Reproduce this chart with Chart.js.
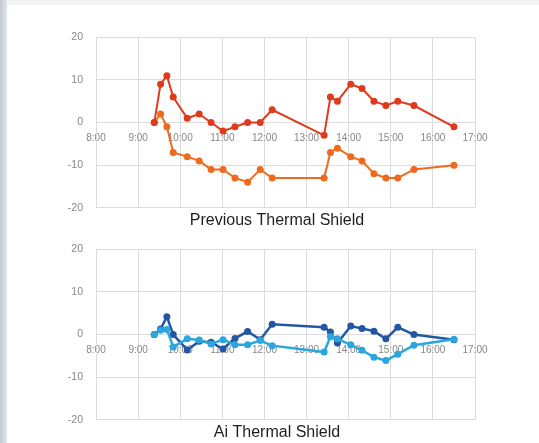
<!DOCTYPE html>
<html>
<head>
<meta charset="utf-8">
<script src="https://cdn.jsdelivr.net/npm/chart.js@4.4.1/dist/chart.umd.min.js"></script>
<style>
    html, body { margin: 0; padding: 0; }
    body {
        width: 539px; height: 443px; position: relative; overflow: hidden;
        background: #fff;
    }
    .strip-left {
        position: absolute; left: 0; top: 0; width: 7px; height: 443px;
        background: linear-gradient(to right, #c3c9cf, #e3e7ea);
    }
    .strip-top {
        position: absolute; left: 0; top: 0; width: 539px; height: 5px;
        background: #f1f3f5;
    }
    .box { position: absolute; left: 40px; width: 474px; }
    #box1 { top: 18px; height: 216px; }
    #box2 { top: 230px; height: 216px; }
</style>
</head>
<body>
<div class="strip-top"></div>
<div class="strip-left"></div>
<div class="box" id="box1"><canvas id="prev"></canvas></div>
<div class="box" id="box2"><canvas id="ai"></canvas></div>
<script>
// sample times (hh:mm) shared by every series
const times = ['9:23', '9:32', '9:41', '9:50', '10:10', '10:27', '10:44', '11:01', '11:18', '11:36', '11:54',
    '12:11', '13:25', '13:34', '13:44', '14:03', '14:19', '14:36', '14:53', '15:10', '15:33', '16:30'];

// Previous Thermal Shield
const prevUpper = [0, 9, 11, 6, 1, 2, 0, -2, -1, 0, 0, 3, -3, 6, 5, 9, 8, 5, 4, 5, 4, -1];
const prevLower = [0, 2, -1, -7, -8, -9, -11, -11, -13, -14, -11, -13, -13, -7, -6, -8, -9, -12, -13, -13, -11, -10];

// Ai Thermal Shield
const aiDark = [0, 1.3, 4.2, 0, -3.6, -1.6, -1.8, -3.4, -0.9, 0.7, -1.2, 2.4, 1.7, 0.6, -2, 2, 1.4, 0.8, -1, 1.7, 0, -1.2];
const aiLight = [0, 1, 1.2, -2.9, -1, -1.3, -2.2, -1.2, -2.4, -2.4, -1.4, -2.6, -4.1, -0.5, -1, -2.4, -3.7, -5.3, -6.1, -4.6, -2.5, -1.1];

const xTicks = [8, 9, 10, 11, 12, 13, 14, 15, 16, 17];
const yTicks = [-20, -10, 0, 10, 20];

const toHours = t => {
    const [h, m] = t.split(':').map(Number);
    return h + m / 60;
};

const pairs = values => times.map((t, i) => ({ x: toHours(t), y: values[i] }));

Chart.defaults.font.family = '"Liberation Sans", Arial, sans-serif';
Chart.defaults.animation = false;

function series(values, color, width) {
    return {
        data: pairs(values),
        borderColor: color,
        backgroundColor: color,
        borderWidth: width,
        pointRadius: 3.5,
        pointBorderWidth: 0,
        pointBackgroundColor: color,
        tension: 0
    };
}

function makeChart(id, title, datasets) {
    return new Chart(document.getElementById(id), {
        type: 'line',
        data: { datasets },
        options: {
            responsive: true,
            maintainAspectRatio: false,
            layout: { padding: 0 },
            plugins: {
                legend: { display: false },
                tooltip: { enabled: false },
                title: {
                    display: true,
                    text: title,
                    position: 'bottom',
                    color: '#1e1e1e',
                    font: { size: 16, weight: 'normal' },
                    padding: { top: 3, bottom: 4 }
                }
            },
            scales: {
                x: {
                    type: 'linear',
                    position: { y: 0 },
                    min: 8,
                    max: 17,
                    afterBuildTicks: s => { s.ticks = xTicks.map(v => ({ value: v })); },
                    ticks: {
                        callback: v => v + ':00',
                        color: '#878787',
                        font: { size: 10 },
                        padding: 10,
                        maxRotation: 0,
                        autoSkip: false
                    },
                    grid: { color: '#dcdcdc', drawTicks: false, lineWidth: 1 },
                    border: { display: false }
                },
                y: {
                    min: -20,
                    max: 20,
                    afterBuildTicks: s => { s.ticks = yTicks.map(v => ({ value: v })); },
                    afterFit: s => { s.width = 56; },
                    ticks: {
                        color: '#878787',
                        font: { size: 10.5 },
                        padding: 13
                    },
                    grid: { color: '#dcdcdc', drawTicks: false, lineWidth: 1 },
                    border: { color: '#dcdcdc' }
                },
                // empty right-hand box: leaves room so the title sits where the original has it
                y2: {
                    position: 'right',
                    min: -20,
                    max: 20,
                    afterFit: s => { s.width = 39; },
                    ticks: { display: false },
                    grid: { display: false, drawOnChartArea: false },
                    border: { display: false }
                }
            }
        }
    });
}

makeChart('prev', 'Previous Thermal Shield', [
    series(prevUpper, '#de3a1c', 2),
    series(prevLower, '#ee6a1e', 2)
]);

makeChart('ai', 'Ai Thermal Shield', [
    series(aiLight, '#2ba6de', 2.5),
    series(aiDark, '#2356a3', 2.5)
]);
</script>
</body>
</html>
